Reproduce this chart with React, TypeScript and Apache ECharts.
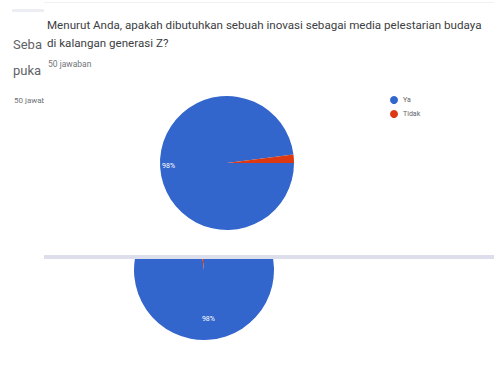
import React, { useEffect, useRef } from "react";
import * as echarts from "echarts";

const categories = ["Ya", "Tidak"];
const mainValues = [49, 1];
const backgroundValues = [49, 1];
const colors = ["#3366cc", "#dc3912"];
const questionLines = [
  "Menurut Anda, apakah dibutuhkan sebuah inovasi sebagai media pelestarian budaya",
  "di kalangan generasi Z?",
];
const responseText = "50 jawaban";
const backgroundLines = ["Seba", "puka"];
const backgroundResponse = "50 jawaban";

export default function App() {
  const ref = useRef<HTMLDivElement>(null);
  useEffect(() => {
    if (!ref.current) return;
    const chart = echarts.init(ref.current, undefined, { renderer: "svg" });
    const font = "Roboto, Arial, sans-serif";
    const txt = (z: number, x: number, y: number, text: string, size: number, fill: string) => ({
      type: "text",
      z,
      x,
      y,
      style: { text, fontSize: size, fill, fontFamily: font, verticalAlign: "middle", align: "left" },
    });
    chart.setOption({
      animation: false,
      color: colors,
      legend: {
        orient: "vertical",
        left: 390,
        top: 96,
        padding: 0,
        icon: "circle",
        itemWidth: 8,
        itemHeight: 8,
        itemGap: 6,
        data: categories,
        z: 6,
        textStyle: { fontSize: 7, color: "#5f6368", fontFamily: font },
      },
      graphic: [
        { type: "rect", z: 1, shape: { x: 12, y: 9, width: 32, height: 3 }, style: { fill: "#eceef3" } },
        txt(1, 13, 44, backgroundLines[0], 13, "#5f6368"),
        txt(1, 13, 70, backgroundLines[1], 13, "#5f6368"),
        txt(1, 14, 100, backgroundResponse, 8, "#70757a"),
        { type: "rect", z: 3, shape: { x: 44, y: 0, width: 460, height: 256 }, style: { fill: "#ffffff" } },
        { type: "rect", z: 3, shape: { x: 44, y: 2, width: 460, height: 1 }, style: { fill: "#f1f1f4" } },
        { type: "rect", z: 3, shape: { x: 44, y: 255, width: 460, height: 4 }, style: { fill: "#dcdeeb" } },
        txt(5, 47, 25, questionLines[0], 11.6, "#3c4043"),
        txt(5, 47, 43, questionLines[1], 11.6, "#3c4043"),
        txt(5, 48, 63.5, responseText, 8.5, "#70757a"),
      ],
      series: [
        {
          type: "pie",
          z: 1,
          center: [204, 270],
          radius: [0, 70],
          startAngle: 90,
          clockwise: true,
          percentPrecision: 0,
          silent: true,
          label: {
            position: "inside",
            formatter: (p: any) => (p.percent > 10 ? p.percent + "%" : ""),
            color: "#ffffff",
            fontSize: 7,
            fontFamily: font,
          },
          labelLayout: { dx: 2, dy: 11 },
          labelLine: { show: false },
          itemStyle: { borderWidth: 0 },
          data: categories.map((c, i) => ({ name: c, value: backgroundValues[i] })),
        },
        {
          type: "pie",
          z: 5,
          center: [227, 163],
          radius: [0, 67],
          startAngle: 0,
          clockwise: true,
          percentPrecision: 0,
          label: {
            position: "inside",
            formatter: (p: any) => (p.percent > 10 ? p.percent + "%" : ""),
            color: "#ffffff",
            fontSize: 7,
            fontFamily: font,
          },
          labelLayout: { dx: -22, dy: 1 },
          labelLine: { show: false },
          itemStyle: { borderWidth: 0 },
          data: categories.map((c, i) => ({ name: c, value: mainValues[i] })),
        },
      ],
    });
    return () => chart.dispose();
  }, []);
  return (
    <div
      ref={ref}
      style={{ position: "fixed", left: 0, top: 0, width: 494, height: 376, background: "#ffffff" }}
    />
  );
}
